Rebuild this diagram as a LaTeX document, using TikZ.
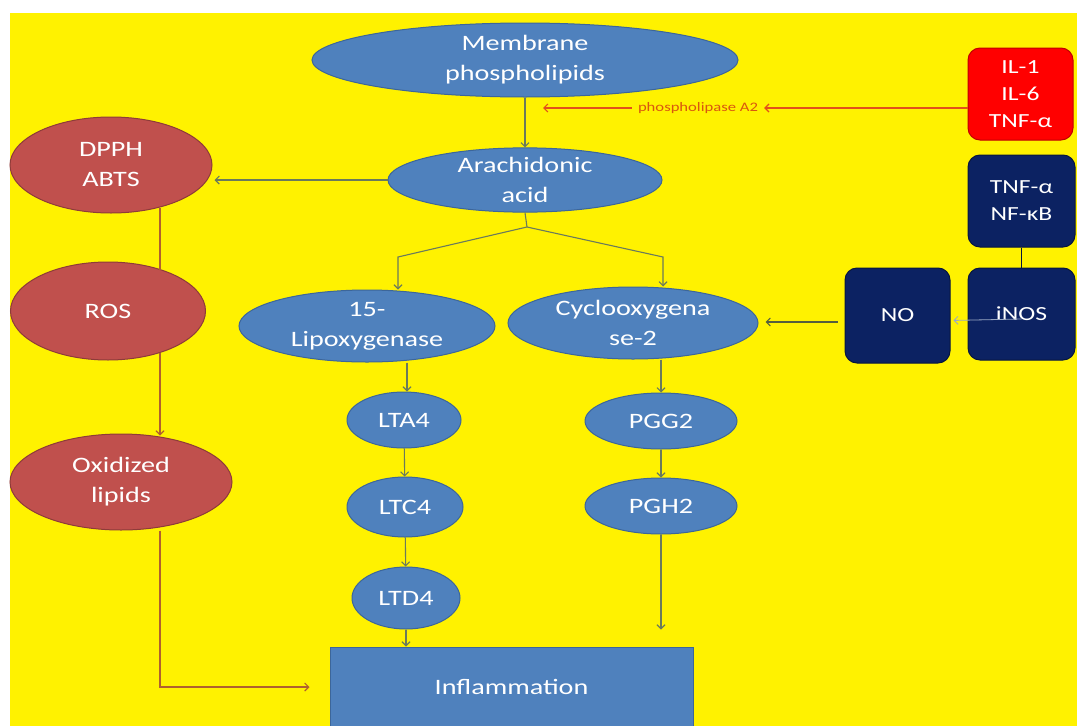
\documentclass[tikz,border=0pt]{standalone}
\usepackage{fontspec}
\setmainfont{Carlito}[FakeStretch=1.28]
\usetikzlibrary{shapes.geometric, arrows, arrows.meta, positioning}

\definecolor{ellblue}{HTML}{4F81BD}
\definecolor{ellblueline}{HTML}{3C669A}
\definecolor{ellred}{HTML}{C0504D}
\definecolor{ellredline}{HTML}{8E3B39}
\definecolor{navyfill}{HTML}{0C2262}
\definecolor{navyline}{HTML}{07163F}
\definecolor{cytred}{HTML}{FF0000}
\definecolor{cytredline}{HTML}{C00000}
\definecolor{arrowgrey}{HTML}{6A7A5C}
\definecolor{arrowbrown}{HTML}{B0602E}
\definecolor{plared}{HTML}{E2501A}
\definecolor{platext}{HTML}{D9560F}
\definecolor{nodark}{HTML}{555F3E}
\definecolor{noslight}{HTML}{9AA8C4}

\begin{document}
\begin{tikzpicture}[
    x=1pt, y=-1pt,
    >={Straight Barb[length=4pt, width=8pt]},
    ell/.style={draw, ellipse, line width=1pt, inner sep=0pt, align=center, text=white, font=\fontsize{22}{30}\selectfont},
    blueell/.style={ell, fill=ellblue, draw=ellblueline},
    redell/.style={ell, fill=ellred, draw=ellredline},
    cytbox/.style={draw, rectangle, rounded corners=12pt, line width=1pt, align=center, text=white, inner sep=0pt, font=\fontsize{20}{27}\selectfont},
    redbox/.style={cytbox, fill=cytred, draw=cytredline},
    navybox/.style={cytbox, fill=navyfill, draw=navyline},
    arrow/.style={line width=1.1pt, ->, draw=arrowgrey},
    brownarrow/.style={line width=1.1pt, ->, draw=arrowbrown},
    redarrow/.style={line width=1.2pt, ->, draw=plared}
]
    \useasboundingbox (0,0) rectangle (1077,726);
    \fill [white] (0,0) rectangle (1077,726);
    \fill [yellow] (10,13) rectangle (1077,726);

    % Central pathway
    \node (memb) [blueell, minimum width=426pt, minimum height=74pt] at (525,60) {Membrane\\phospholipids};
    \node (arach) [blueell, minimum width=274pt, minimum height=52pt] at (525,180) {Arachidonic\\acid};
    \node (lox) [blueell, minimum width=256pt, minimum height=72pt] at (367,326) {15-\\Lipoxygenase};
    \node (cox) [blueell, minimum width=250pt, minimum height=72pt] at (633,323) {Cyclooxygena\\se-2};

    % Leukotriene and prostaglandin columns
    \node (lta4) [blueell, minimum width=114pt, minimum height=56pt] at (404,420) {LTA4};
    \node (ltc4) [blueell, minimum width=116pt, minimum height=60pt] at (405,507) {LTC4};
    \node (ltd4) [blueell, minimum width=108pt, minimum height=62pt] at (406,598) {LTD4};
    \node (pgg2) [blueell, minimum width=152pt, minimum height=56pt] at (661,421) {PGG2};
    \node (pgh2) [blueell, minimum width=152pt, minimum height=56pt] at (661,506) {PGH2};
    \node (infl) [draw=ellblueline, fill=ellblue, rectangle, line width=1pt, text=white, font=\fontsize{22}{30}\selectfont, minimum width=363pt, minimum height=80pt] at (511.5,687) {Inflammation};

    % Oxidative side
    \node (dpph) [redell, minimum width=202pt, minimum height=96pt] at (111,165) {DPPH\\ABTS};
    \node (ros) [redell, minimum width=195pt, minimum height=98pt] at (108,311) {ROS};
    \node (oxid) [redell, minimum width=222pt, minimum height=96pt] at (121,482) {Oxidized\\lipids};
    \coordinate (lcol) at (160,0);

    % Cytokines
    \node (il) [redbox, minimum width=105pt, minimum height=92pt] at (1020.5,94) {IL-1\\IL-6\\TNF-α};
    \node (tnf) [navybox, minimum width=107pt, minimum height=92pt] at (1021.5,201) {TNF-α\\NF-κB};
    \node (inos) [navybox, minimum width=107pt, minimum height=92pt] at (1021.5,314) {iNOS};
    \node (no) [navybox, minimum width=105pt, minimum height=95pt] at (897.5,315.5) {NO};
    \node (pla2) [text=platext, inner sep=6pt, font=\fontsize{13}{15}\selectfont] at (698,108) {phospholipase A2};
    \coordinate (plaend) at (543,108);

    % Connections
    \draw [arrow] (memb.south) -- (arach.north);
    \draw [redarrow] ([yshift=-14pt]il.west) -- (pla2.east);
    \draw [redarrow] (pla2.west) -- (plaend);
    \draw [arrow, shorten >=2pt] (arach.west) -- (arach.west -| dpph.east);

    % Split below arachidonic acid
    \coordinate (split) at (527,227);
    \coordinate (loxarm) at (398,257);
    \coordinate (coxarm) at (663,257);
    \draw [arrow, -] (arach.south) -- (split);
    \draw [arrow] (split) -- (loxarm) -- (loxarm |- lox.north);
    \draw [arrow] (split) -- (coxarm) -- (coxarm |- cox.north);

    \draw [arrow] ([xshift=3pt]lta4.north |- lox.south) -- ([xshift=3pt]lta4.north);
    \draw [arrow] (lta4) -- (ltc4);
    \draw [arrow] (ltc4) -- (ltd4);
    \draw [arrow] (ltd4.south) -- (ltd4.south |- infl.north);
    \draw [arrow] (pgg2.north |- cox.south) -- (pgg2.north);
    \draw [arrow] (pgg2) -- (pgh2);
    \draw [arrow, shorten >=17pt] (pgh2.south) -- (pgh2.south |- infl.north);

    % Oxidative branch
    \draw [brownarrow, -, shorten <=-6pt, shorten >=-8pt] (lcol |- dpph.south) -- (lcol |- ros.north);
    \draw [brownarrow, shorten <=-8pt, shorten >=-2pt] (lcol |- ros.south) -- (lcol |- oxid.north);
    \draw [brownarrow, shorten >=20pt] (lcol |- oxid.south) |- (infl.west);

    % Cytokine branch
    \draw [line width=1.1pt, draw=navyline] (tnf.south) -- (inos.north);
    \draw [line width=0.8pt, ->, draw=noslight, shorten >=3pt] ([yshift=-5pt]inos.center) -- ([yshift=-5pt]no.east);
    \draw [line width=1.1pt, ->, draw=nodark, shorten <=7pt, shorten >=7pt] ([yshift=-6.5pt]no.west) -- ([yshift=-6.5pt]no.west -| cox.east);
\end{tikzpicture}
\end{document}
